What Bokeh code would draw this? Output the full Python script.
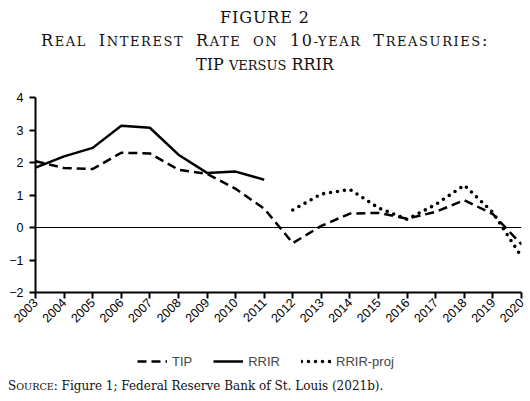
from bokeh.plotting import figure
from bokeh.models import Range1d, Span, Legend, LegendItem, Div, FixedTicker
from bokeh.layouts import column
from bokeh.embed import file_html
from bokeh.resources import INLINE

years = list(range(2003, 2021))
tip = [2.04, 1.83, 1.80, 2.30, 2.28, 1.78, 1.65, 1.19, 0.58, -0.48,
       0.05, 0.43, 0.45, 0.27, 0.48, 0.84, 0.41, -0.52]
rrir_years = list(range(2003, 2012))
rrir = [1.84, 2.19, 2.45, 3.13, 3.07, 2.24, 1.68, 1.72, 1.47]
proj_years = list(range(2012, 2021))
rrir_proj = [0.54, 1.03, 1.17, 0.60, 0.25, 0.71, 1.30, 0.46, -0.90]
y_ticks = [-2, -1, 0, 1, 2, 3, 4]
series_names = ["TIP", "RRIR", "RRIR-proj"]

SERIF = "'DejaVu Serif'"
SANS = "Liberation Sans"
BIG, SMALL = 16, 13


def sc(word, big=BIG, small=SMALL):
    """small caps: first letter at big size, remaining letters uppercase at small size"""
    return (f"<span style=\"font-size:{big}px\">{word[0]}</span>"
            f"<span style=\"font-size:{small}px; text-transform:uppercase\">{word[1:]}</span>")


def low(txt, small=SMALL):
    return f"<span style=\"font-size:{small}px; text-transform:uppercase\">{txt}</span>"


line2 = " ".join([sc("Real"), sc("Interest"), sc("Rate"), low("on"),
                  f"<span style=\"font-size:{BIG}px\">10</span>" + low("-year"),
                  sc("Treasuries") + ":"])
line3 = "TIP " + low("versus") + " RRIR"

title = Div(
    text=(f"<div style=\"font-family:{SERIF}; font-size:{BIG}px; line-height:23px; "
          "text-align:center; width:530px; padding-top:6px; color:#111\">"
          "<div style=\"letter-spacing:0.9px\">FIGURE 2</div>"
          f"<div style=\"letter-spacing:1.6px; word-spacing:5px\">{line2}</div>"
          f"<div>{line3}</div></div>"),
    width=530, height=78, margin=(0, 0, 0, 0))

p = figure(width=530, height=262, x_range=Range1d(2003, 2020), y_range=Range1d(-2, 4),
           output_backend="svg", toolbar_location=None,
           min_border_left=35, min_border_right=9, min_border_top=19, min_border_bottom=48)
p.outline_line_color = None
p.grid.visible = False
p.background_fill_color = None
p.border_fill_color = None

for ax in (p.xaxis, p.yaxis):
    ax.axis_line_width = 2
    ax.major_tick_line_width = 2
    ax.minor_tick_line_color = None
    ax.major_tick_in = 0
    ax.major_tick_out = 6
    ax.major_label_text_font = SANS
    ax.major_label_text_font_size = "12.5px"
    ax.major_label_text_color = "black"
p.xaxis.ticker = FixedTicker(ticks=years)
p.yaxis.ticker = FixedTicker(ticks=y_ticks)
p.yaxis.major_label_overrides = {t: (f"\u2212{abs(t)}" if t < 0 else str(t)) for t in y_ticks}
p.xaxis.major_label_orientation = 0.785398
p.xaxis.major_label_standoff = 2
p.yaxis.major_label_standoff = 6

p.add_layout(Span(location=0, dimension="width", line_color="black", line_width=1))

TIP_STYLE = dict(line_color="black", line_width=2.5, line_dash="9 5")
RRIR_STYLE = dict(line_color="black", line_width=2.5)
PROJ_STYLE = dict(line_color="black", line_width=3.6, line_dash="0 7", line_cap="round")

p.line(years, tip, **TIP_STYLE)
p.line(rrir_years, rrir, **RRIR_STYLE)
p.line(proj_years, rrir_proj, **PROJ_STYLE)

# legend in its own strip below the chart (proxy renderers lie outside its view)
lg = figure(width=530, height=32, x_range=Range1d(0, 1), y_range=Range1d(0, 1),
            output_backend="svg", toolbar_location=None,
            x_axis_type=None, y_axis_type=None, min_border=0)
lg.outline_line_color = None
lg.grid.visible = False
lg.background_fill_color = None
lg.border_fill_color = None
l1 = lg.line(years, tip, **TIP_STYLE)
l2 = lg.line(rrir_years, rrir, **RRIR_STYLE)
l3 = lg.line(proj_years, rrir_proj, **PROJ_STYLE)
legend = Legend(items=[LegendItem(label=series_names[0], renderers=[l1]),
                       LegendItem(label=series_names[1], renderers=[l2]),
                       LegendItem(label=series_names[2], renderers=[l3])],
                orientation="horizontal", location=(102, 1),
                border_line_color=None, background_fill_color=None,
                label_text_font=SANS, label_text_font_size="13px",
                glyph_width=30, label_standoff=5, spacing=21, padding=4, margin=0)
lg.add_layout(legend, "center")

source = Div(
    text=(f"<div style=\"font-family:{SERIF}; font-size:12px; color:#111; white-space:nowrap; "
          "padding-top:6px; padding-left:8px\">"
          + sc("Source", 12, 9.6) +
          ": Figure 1; Federal Reserve Bank of St. Louis (2021b).</div>"),
    width=530, height=29, margin=(0, 0, 0, 0))

layout = column(title, p, lg, source, spacing=0)
open("out.html", "w").write(file_html(layout, INLINE))
